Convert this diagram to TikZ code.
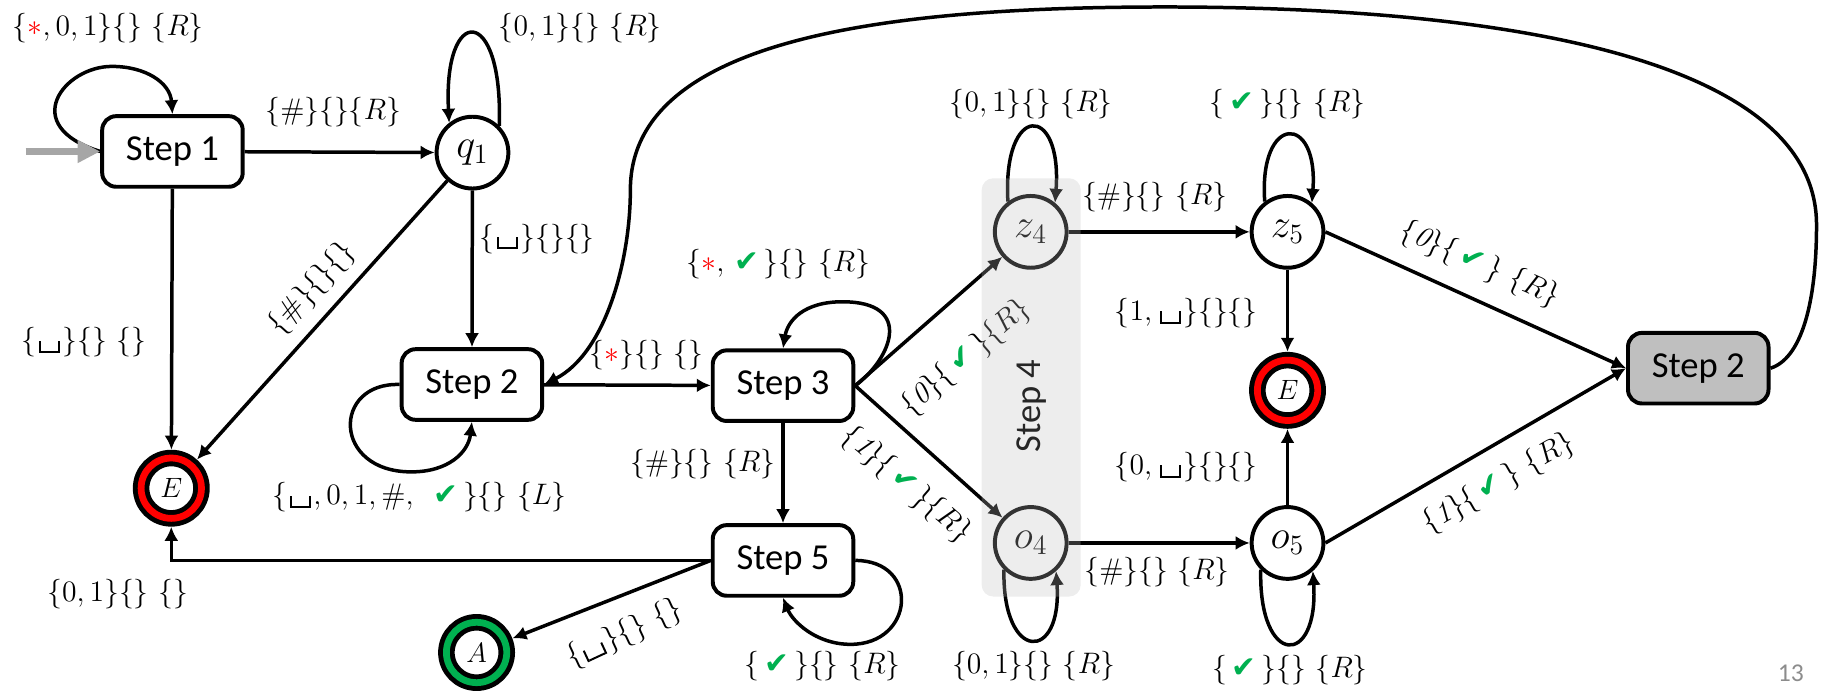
\documentclass[tikz,border=0pt,12pt]{standalone}
\usepackage{fontspec}
\usepackage{tikz}
\usetikzlibrary{arrows.meta}
\usepackage{xcolor}
\newfontfamily\stepfont{Carlito}
\newfontfamily\chkfont{DejaVu Sans}
\definecolor{okgreen}{RGB}{0,176,80}
\definecolor{boxgray}{RGB}{191,191,191}
\definecolor{initgray}{RGB}{166,166,166}
\newcommand{\chk}{\,\mbox{\chkfont\color{okgreen}✔}\,}
\newcommand{\rast}{\textcolor{red}{\ast}}
\newcommand{\blk}{\mbox{\kern1pt\rule[-1.2pt]{0.8pt}{5pt}\rule[-1.2pt]{7pt}{0.8pt}\rule[-1.2pt]{0.8pt}{5pt}\kern1pt}}

\begin{document}
\begin{tikzpicture}[x=0.5pt,y=0.5pt,>={Latex[length=6pt,width=6pt]},
  stepbox/.style={draw,line width=1.7pt,rounded corners=6pt,minimum width=60.3pt,minimum height=30.3pt,fill=white,font=\stepfont\fontsize{15.7}{18}\selectfont},
  tmstate/.style={draw,circle,line width=1.7pt,minimum size=30.8pt,inner sep=0pt,fill=white,font=\Large},
  halt/.style={draw=black,circle,line width=2.1pt,double=#1,double distance=2.9pt,minimum size=25.9pt,inner sep=0pt,outer sep=3.6pt,fill=white},
  trans/.style={->,line width=1.5pt},
  lab/.style={inner sep=1pt,scale=1.06}]
\useasboundingbox (0,0) rectangle (1568,593);

\node[stepbox] (s1) at (148,463) {Step 1};
\node[tmstate] (q1) at (405.5,462) {$q_1$};
\node[stepbox] (s2) at (405,263) {Step 2};
\node[stepbox] (s3) at (672,262) {Step 3};
\node[stepbox] (s5) at (672,112) {Step 5};
\node[stepbox,fill=boxgray] (sr2) at (1457.5,277) {Step 2};
\node[halt=red] (e1) at (147,174) {$E$};
\node[halt=okgreen] (acc) at (409,33) {$A$};
\node[tmstate] (z4) at (884.6,394) {$z_4$};
\node[tmstate] (z5) at (1105,394) {$z_5$};
\node[tmstate] (o4) at (884.6,127) {$o_4$};
\node[tmstate] (o5) at (1105,127) {$o_5$};
\node[halt=red] (e2) at (1105,258) {$E$};

\coordinate (init) at (22,463);
\draw[trans] (s1.west) .. controls (15,485) and (55,536) .. (96,536) .. controls (125,536) and (146,522) .. (s1.north);
\draw[line width=3.3pt,initgray,-{Triangle[length=9.7pt,width=9.3pt]}] (init) -- (s1.west);
\draw[trans] (s1) -- (q1);
\draw[trans] (q1.45) .. controls (432,590) and (380,590) .. (q1.128);
\draw[trans] (q1) -- (s2);
\draw[trans] (q1) -- (e1);
\draw[trans] (s1) -- (e1);
\draw[trans] (s2.west) .. controls (285,265) and (285,188) .. (353,188) .. controls (385,188) and (402,205) .. (s2.south);
\draw[trans] (s2) -- (s3);
\draw[trans] (sr2.east) .. controls (1545,285) and (1559,330) .. (1559,400) .. controls (1559,540) and (1300,587) .. (1000,587) .. controls (760,587) and (541,560) .. (541,430) .. controls (541,370) and (520,290) .. (s2.east);
\draw[trans] (s3.east) .. controls (765,285) and (785,334) .. (723,334) .. controls (690,334) and (676,318) .. (s3.north);
\draw[trans] (s3) -- (s5);
\draw[trans] (s3.east) -- (z4);
\draw[trans] (s3.east) -- (o4);
\draw[trans] (s5.east) .. controls (790,112) and (785,40) .. (730,40) .. controls (700,40) and (680,60) .. (s5.south);
\draw[trans] (s5.west) -| (e1);
\draw[trans] (s5.west) -- (acc);
\draw[trans] (z4.127) .. controls (860,505) and (912,505) .. (z4.50);
\draw[trans] (z5.127) .. controls (1080,496) and (1132,496) .. (z5.50);
\draw[trans] (o4.225) .. controls (860,24) and (912,24) .. (o4.-48);
\draw[trans] (o5.225) .. controls (1080,20) and (1132,20) .. (o5.-48);
\draw[trans] (z4) -- (z5);
\draw[trans] (o4) -- (o5);
\draw[trans] (z5) -- (e2);
\draw[trans] (o5) -- (e2);
\draw[trans] (z5.east) -- (sr2.west);
\draw[trans] (o5.east) -- (sr2.west);

\node[lab] (l1loop) at (93,569) {$\{\rast, 0,1\}\{\}\ \{R\}$};
\node[lab] (l1q) at (286,497) {$\{\#\}\{\}\{R\}$};
\node[lab] (lq1loop) at (498,569) {$\{0,1\}\{\}\ \{R\}$};
\node[lab] (lq1s2) at (461,388) {$\{\blk\}\{\}\{\}$};
\node[lab,rotate=48] (lq1e) at (268,345) {$\{\#\}\{\}\{\}$};
\node[lab] (l1e) at (72,299) {$\{\blk\}\{\}\ \{\}$};
\node[lab] (ls2loop) at (360,166) {$\{\blk,0,1,\#,\ \chk\}\{\}\ \{L\}$};
\node[lab] (ls2s3) at (555,288) {$\{\rast\}\{\}\ \{\}$};
\node[lab] (ls3loop) at (668,366) {$\{\rast,\chk\}\{\}\ \{R\}$};
\node[lab] (ls3s5) at (603,195) {$\{\#\}\{\}\ \{R\}$};
\node[lab,rotate=41] (ls3z4) at (829,286) {$\{\mathit{0}\}\{\chk\}\{R\}$};
\node[lab,rotate=-41] (ls3o4) at (778,177) {$\{\mathit{1}\}\{\chk\}\{R\}$};
\node[lab] (ls5loop) at (706,21) {$\{\chk\}\{\}\ \{R\}$};
\node[lab] (ls5e) at (101,83) {$\{0,1\}\{\}\ \{\}$};
\node[lab,rotate=25] (ls5a) at (536,49) {$\{\blk\}\{\}\ \{\}$};
\node[lab] (lz4loop) at (885,504) {$\{0,1\}\{\}\ \{R\}$};
\node[lab] (lz5loop) at (1105,504) {$\{\chk\}\{\}\ \{R\}$};
\node[lab] (lz4z5) at (991,424) {$\{\#\}\{\}\ \{R\}$};
\node[lab] (lz5e) at (1018,324) {$\{1,\blk\}\{\}\{\}$};
\node[lab] (lo5e) at (1018,192) {$\{0,\blk\}\{\}\{\}$};
\node[lab] (lo4o5) at (993,102) {$\{\#\}\{\}\ \{R\}$};
\node[lab] (lo4loop) at (887,21) {$\{0,1\}\{\}\ \{R\}$};
\node[lab] (lo5loop) at (1107,18) {$\{\chk\}\{\}\ \{R\}$};
\node[lab,rotate=-24] (lz5r) at (1270,366) {$\{\mathit{0}\}\{\chk\}\ \{R\}$};
\node[lab,rotate=30] (lo5r) at (1286,178) {$\{\mathit{1}\}\{\chk\}\ \{R\}$};

\fill[black!26,opacity=0.27,rounded corners=5pt] (842.5,81) rectangle (927.5,440);
\node[rotate=90,text=black!85,font=\stepfont\fontsize{15.7}{18}\selectfont] (s4) at (885,244.5) {Step 4};
\node[text=black!45,font=\stepfont\fontsize{11}{13}\selectfont] (pg) at (1537,15) {13};
\end{tikzpicture}
\end{document}
